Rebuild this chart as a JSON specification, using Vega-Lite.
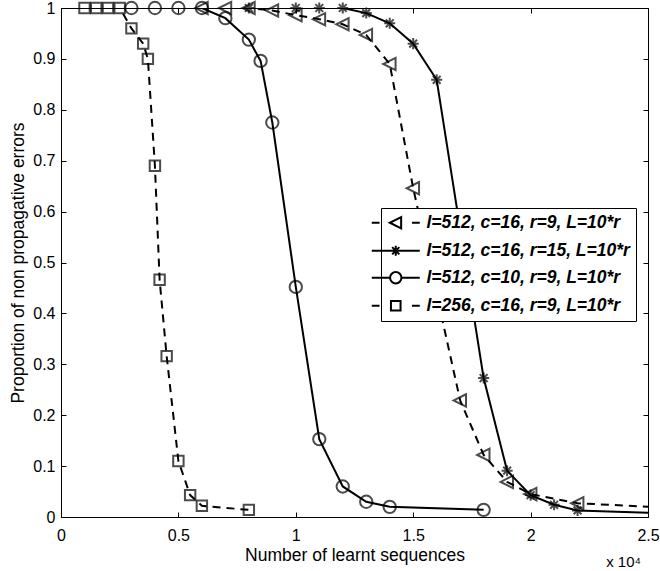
{
  "$schema": "https://vega.github.io/schema/vega-lite/v6.json",
  "autosize": {"type": "none"},
  "padding": {"left": 61, "top": 8, "right": 12, "bottom": 54},
  "width": 587,
  "height": 509,
  "background": "white",
  "title": {"text": "x 10⁴", "orient": "bottom", "anchor": "end", "frame": "group", "fontSize": 15, "fontWeight": "normal", "font": "Liberation Sans", "color": "black", "offset": -9, "dx": -7},
  "config": {
    "view": {"stroke": "black", "strokeWidth": 1},
    "font": "Liberation Sans",
    "axis": {"domain": false, "grid": false, "tickColor": "black", "labelColor": "black", "titleColor": "black", "labelFont": "Liberation Sans", "titleFont": "Liberation Sans", "labelFontSize": 16, "titleFontSize": 17.5, "titleFontWeight": "normal", "labelFlush": false, "labelOverlap": false, "labelBound": false, "tickWidth": 1}
  },
  "data": {"values": [
    {"s": "l=512, c=16, r=9, L=10*r", "x": 6000, "y": 1},
    {"s": "l=512, c=16, r=9, L=10*r", "x": 7000, "y": 1},
    {"s": "l=512, c=16, r=9, L=10*r", "x": 8000, "y": 1},
    {"s": "l=512, c=16, r=9, L=10*r", "x": 9000, "y": 0.995},
    {"s": "l=512, c=16, r=9, L=10*r", "x": 10000, "y": 0.986},
    {"s": "l=512, c=16, r=9, L=10*r", "x": 11000, "y": 0.978},
    {"s": "l=512, c=16, r=9, L=10*r", "x": 12000, "y": 0.968},
    {"s": "l=512, c=16, r=9, L=10*r", "x": 13000, "y": 0.947},
    {"s": "l=512, c=16, r=9, L=10*r", "x": 14000, "y": 0.89},
    {"s": "l=512, c=16, r=9, L=10*r", "x": 15000, "y": 0.646},
    {"s": "l=512, c=16, r=9, L=10*r", "x": 17000, "y": 0.229},
    {"s": "l=512, c=16, r=9, L=10*r", "x": 18000, "y": 0.122},
    {"s": "l=512, c=16, r=9, L=10*r", "x": 19000, "y": 0.069},
    {"s": "l=512, c=16, r=9, L=10*r", "x": 20000, "y": 0.045},
    {"s": "l=512, c=16, r=9, L=10*r", "x": 22000, "y": 0.027},
    {"s": "l=512, c=16, r=9, L=10*r", "x": 26000, "y": 0.018},
    {"s": "l=512, c=16, r=15, L=10*r", "x": 8000, "y": 1},
    {"s": "l=512, c=16, r=15, L=10*r", "x": 10000, "y": 1},
    {"s": "l=512, c=16, r=15, L=10*r", "x": 11000, "y": 1},
    {"s": "l=512, c=16, r=15, L=10*r", "x": 12000, "y": 1},
    {"s": "l=512, c=16, r=15, L=10*r", "x": 13000, "y": 0.99},
    {"s": "l=512, c=16, r=15, L=10*r", "x": 14000, "y": 0.97},
    {"s": "l=512, c=16, r=15, L=10*r", "x": 15000, "y": 0.93},
    {"s": "l=512, c=16, r=15, L=10*r", "x": 16000, "y": 0.859},
    {"s": "l=512, c=16, r=15, L=10*r", "x": 18000, "y": 0.273},
    {"s": "l=512, c=16, r=15, L=10*r", "x": 19000, "y": 0.091},
    {"s": "l=512, c=16, r=15, L=10*r", "x": 20000, "y": 0.043},
    {"s": "l=512, c=16, r=15, L=10*r", "x": 21000, "y": 0.024},
    {"s": "l=512, c=16, r=15, L=10*r", "x": 22000, "y": 0.013},
    {"s": "l=512, c=16, r=15, L=10*r", "x": 26000, "y": 0.007},
    {"s": "l=512, c=10, r=9, L=10*r", "x": 3000, "y": 1},
    {"s": "l=512, c=10, r=9, L=10*r", "x": 4000, "y": 1},
    {"s": "l=512, c=10, r=9, L=10*r", "x": 5000, "y": 1},
    {"s": "l=512, c=10, r=9, L=10*r", "x": 6000, "y": 1},
    {"s": "l=512, c=10, r=9, L=10*r", "x": 7000, "y": 0.98},
    {"s": "l=512, c=10, r=9, L=10*r", "x": 8000, "y": 0.938},
    {"s": "l=512, c=10, r=9, L=10*r", "x": 8500, "y": 0.896},
    {"s": "l=512, c=10, r=9, L=10*r", "x": 9000, "y": 0.775},
    {"s": "l=512, c=10, r=9, L=10*r", "x": 10000, "y": 0.452},
    {"s": "l=512, c=10, r=9, L=10*r", "x": 11000, "y": 0.153},
    {"s": "l=512, c=10, r=9, L=10*r", "x": 12000, "y": 0.06},
    {"s": "l=512, c=10, r=9, L=10*r", "x": 13000, "y": 0.03},
    {"s": "l=512, c=10, r=9, L=10*r", "x": 14000, "y": 0.02},
    {"s": "l=512, c=10, r=9, L=10*r", "x": 18000, "y": 0.014},
    {"s": "l=256, c=16, r=9, L=10*r", "x": 1000, "y": 1},
    {"s": "l=256, c=16, r=9, L=10*r", "x": 1500, "y": 1},
    {"s": "l=256, c=16, r=9, L=10*r", "x": 2000, "y": 1},
    {"s": "l=256, c=16, r=9, L=10*r", "x": 2500, "y": 1},
    {"s": "l=256, c=16, r=9, L=10*r", "x": 3000, "y": 0.96},
    {"s": "l=256, c=16, r=9, L=10*r", "x": 3500, "y": 0.93},
    {"s": "l=256, c=16, r=9, L=10*r", "x": 3700, "y": 0.9},
    {"s": "l=256, c=16, r=9, L=10*r", "x": 4000, "y": 0.69},
    {"s": "l=256, c=16, r=9, L=10*r", "x": 4200, "y": 0.466},
    {"s": "l=256, c=16, r=9, L=10*r", "x": 4500, "y": 0.316},
    {"s": "l=256, c=16, r=9, L=10*r", "x": 5000, "y": 0.11},
    {"s": "l=256, c=16, r=9, L=10*r", "x": 5500, "y": 0.043},
    {"s": "l=256, c=16, r=9, L=10*r", "x": 6000, "y": 0.022},
    {"s": "l=256, c=16, r=9, L=10*r", "x": 8000, "y": 0.014}
  ]},
  "layer": [
    {
      "transform": [{"filter": "datum.s == 'l=512, c=16, r=9, L=10*r' || datum.s == 'l=256, c=16, r=9, L=10*r'"}],
      "mark": {"type": "line", "clip": true, "strokeWidth": 2, "color": "black", "strokeDash": [8, 6]},
      "encoding": {
        "x": {"field": "x", "type": "quantitative", "scale": {"domain": [0, 25000], "nice": false, "zero": false},
          "axis": {"orient": "bottom", "values": [0, 5000, 10000, 15000, 20000, 25000], "labelExpr": "datum.value / 10000", "title": "Number of learnt sequences", "tickSize": -5, "labelPadding": 15, "titleY": 43, "titleBaseline": "alphabetic"}},
        "y": {"field": "y", "type": "quantitative", "scale": {"domain": [0, 1], "nice": false},
          "axis": {"orient": "left", "values": [0, 0.1, 0.2, 0.3, 0.4, 0.5, 0.6, 0.7, 0.8, 0.9, 1], "format": "~g", "title": "Proportion of non propagative errors", "tickSize": -5, "labelPadding": 11, "titleX": -38, "titleY": 254.5, "titleAngle": -90, "titleAlign": "center", "titleBaseline": "alphabetic"}},
        "detail": {"field": "s"}
      }
    },
    {
      "transform": [{"filter": "datum.s == 'l=512, c=16, r=15, L=10*r' || datum.s == 'l=512, c=10, r=9, L=10*r'"}],
      "mark": {"type": "line", "clip": true, "strokeWidth": 2, "color": "black"},
      "encoding": {
        "x": {"field": "x", "type": "quantitative", "axis": null},
        "y": {"field": "y", "type": "quantitative", "axis": null},
        "detail": {"field": "s"}
      }
    },
    {
      "transform": [{"filter": "datum.x <= 25000 && datum.s == 'l=512, c=16, r=9, L=10*r'"}],
      "mark": {"type": "point", "filled": false, "strokeWidth": 2, "color": "black", "size": 169, "shape": "M0.9,-0.95L-1,0L0.9,0.95Z"},
      "encoding": {
        "x": {"field": "x", "type": "quantitative",
          "axis": {"orient": "top", "values": [0, 5000, 10000, 15000, 20000, 25000], "labels": false, "title": null, "tickSize": -5}},
        "y": {"field": "y", "type": "quantitative",
          "axis": {"orient": "right", "values": [0, 0.1, 0.2, 0.3, 0.4, 0.5, 0.6, 0.7, 0.8, 0.9, 1], "labels": false, "title": null, "tickSize": -5}}
      }
    },
    {
      "transform": [{"filter": "datum.x <= 25000 && datum.s == 'l=512, c=16, r=15, L=10*r'"}],
      "mark": {"type": "point", "filled": false, "strokeWidth": 2, "color": "black", "size": 169, "shape": "M0,-0.85V0.85M-0.85,0H0.85M-0.6,-0.6L0.6,0.6M-0.6,0.6L0.6,-0.6"},
      "encoding": {
        "x": {"field": "x", "type": "quantitative", "axis": null},
        "y": {"field": "y", "type": "quantitative", "axis": null}
      }
    },
    {
      "transform": [{"filter": "datum.x <= 25000 && datum.s == 'l=512, c=10, r=9, L=10*r'"}],
      "mark": {"type": "point", "filled": false, "strokeWidth": 2, "color": "black", "size": 169, "shape": "M-0.95,0A0.95,0.95,0,1,0,0.95,0A0.95,0.95,0,1,0,-0.95,0Z"},
      "encoding": {
        "x": {"field": "x", "type": "quantitative", "axis": null},
        "y": {"field": "y", "type": "quantitative", "axis": null}
      }
    },
    {
      "transform": [{"filter": "datum.x <= 25000 && datum.s == 'l=256, c=16, r=9, L=10*r'"}],
      "mark": {"type": "point", "filled": false, "strokeWidth": 2, "color": "black", "size": 169, "shape": "M-0.8,-0.8H0.8V0.8H-0.8Z"},
      "encoding": {
        "x": {"field": "x", "type": "quantitative", "axis": null},
        "y": {"field": "y", "type": "quantitative", "axis": null}
      }
    },
    {
      "transform": [{"filter": "datum.x <= 25000"}],
      "mark": {"type": "point", "filled": false, "strokeWidth": 2, "color": "black", "opacity": 0},
      "encoding": {
        "x": {"field": "x", "type": "quantitative", "axis": null},
        "y": {"field": "y", "type": "quantitative", "axis": null},
        "shape": {"field": "s", "type": "nominal",
          "scale": {"domain": ["l=512, c=16, r=9, L=10*r", "l=512, c=16, r=15, L=10*r", "l=512, c=10, r=9, L=10*r", "l=256, c=16, r=9, L=10*r"],
            "range": ["M-4,0H-2.7M2.7,0H4M0.9,-0.95L-1,0L0.9,0.95Z", "M-4,0H4M0,-0.85V0.85M-0.6,-0.6L0.6,0.6M-0.6,0.6L0.6,-0.6", "M-4,0H-0.95M0.95,0H4M-0.95,0A0.95,0.95,0,1,0,0.95,0A0.95,0.95,0,1,0,-0.95,0Z", "M-4,0H-2.7M2.7,0H4M-0.8,-0.8H0.8V0.8H-0.8Z"]},
          "legend": {
            "orient": "none", "legendX": 320, "legendY": 200, "title": null,
            "strokeColor": "black", "fillColor": "white", "padding": 6,
            "symbolSize": 144, "symbolStrokeWidth": 2, "symbolStrokeColor": "black", "symbolFillColor": "transparent", "symbolOpacity": 1,
            "labelFont": "Liberation Sans", "labelFontSize": 17.5, "labelFontStyle": "italic", "labelFontWeight": "bold", "labelColor": "black",
            "labelLimit": 400, "labelOffset": 22, "rowPadding": 8
          }
        }
      }
    }
  ]
}
